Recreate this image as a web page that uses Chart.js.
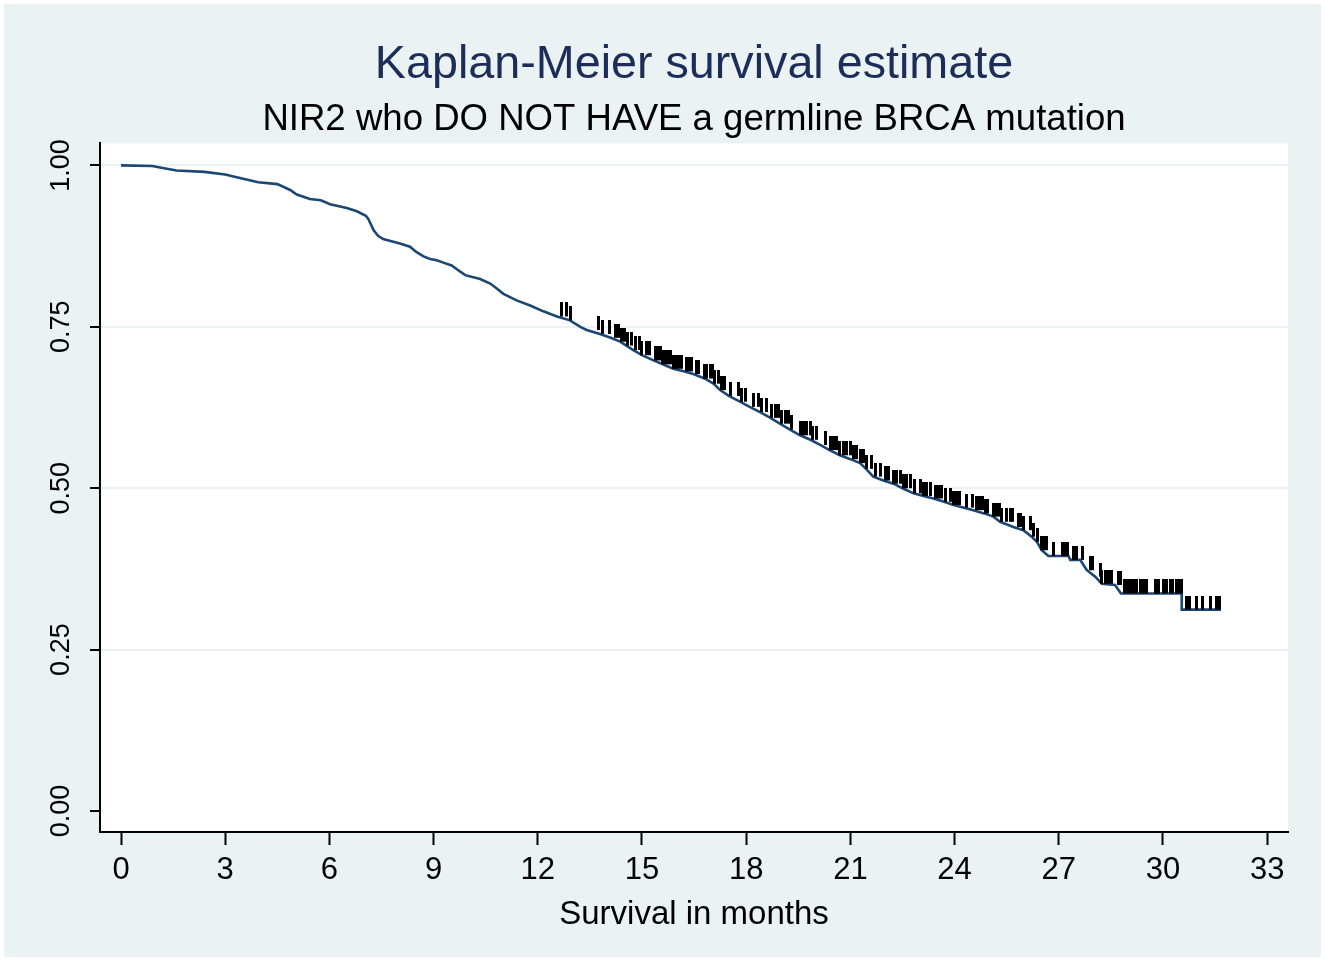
<!DOCTYPE html>
<html>
<head>
<meta charset="utf-8">
<title>Kaplan-Meier survival estimate</title>
<script src="https://cdn.jsdelivr.net/npm/chart.js@4.4.1/dist/chart.umd.min.js"></script>
<style>
  html, body { margin: 0; padding: 0; background: #ffffff; }
  #wrap { width: 1325px; height: 961px; }
</style>
</head>
<body>
<div id="wrap"><canvas id="kmChart" width="1325" height="961"></canvas></div>
<script>
// KM curve: time (months) and survival
const kmTime = [
  0, 0.9, 1.2, 1.6, 2.4, 3.0, 3.3, 3.95, 4.5, 4.87, 5.06, 5.44, 5.75, 6.02, 6.5, 6.79,
  7.05, 7.12, 7.2, 7.27, 7.4, 7.55, 8.03, 8.32, 8.5, 8.71, 8.9, 9.09, 9.3, 9.52, 9.7, 9.91,
  10.34, 10.63, 10.8, 11.01, 11.2, 11.39, 11.78, 12.16, 12.55, 12.93, 13.1, 13.25, 13.41, 13.79,
  14.1, 14.37, 14.55, 14.75, 15.0, 15.33, 15.6, 15.9, 16.2, 16.48, 16.8, 17.06, 17.25, 17.5,
  17.82, 18.1, 18.4, 18.7, 18.97, 19.25, 19.55, 19.85, 20.13, 20.4, 20.7, 21.0, 21.28, 21.45,
  21.66, 21.95, 22.24, 22.5, 22.82, 23.1, 23.39, 23.7, 23.97, 24.25, 24.54, 24.85, 25.12, 25.31,
  25.69, 25.98, 26.22, 26.37, 26.51, 26.7, 27.28, 27.33, 27.62, 27.71, 27.81, 28.05, 28.24, 28.62,
  28.79, 30.54, 30.54, 31.67
];
const kmSurv = [
  1.000, 0.999, 0.996, 0.992, 0.990, 0.986, 0.982, 0.974, 0.971, 0.962, 0.955, 0.948, 0.946, 0.940, 0.934, 0.929,
  0.922, 0.917, 0.908, 0.900, 0.891, 0.886, 0.879, 0.874, 0.866, 0.859, 0.855, 0.853, 0.849, 0.845, 0.838, 0.830,
  0.824, 0.817, 0.810, 0.801, 0.796, 0.791, 0.783, 0.774, 0.766, 0.760, 0.754, 0.749, 0.745, 0.739,
  0.733, 0.727, 0.721, 0.714, 0.706, 0.698, 0.692, 0.685, 0.681, 0.677, 0.670, 0.662, 0.652, 0.643,
  0.634, 0.626, 0.618, 0.609, 0.600, 0.591, 0.582, 0.575, 0.567, 0.559, 0.551, 0.545, 0.539, 0.530,
  0.518, 0.512, 0.507, 0.500, 0.492, 0.488, 0.484, 0.479, 0.474, 0.470, 0.466, 0.461, 0.456, 0.448,
  0.440, 0.435, 0.425, 0.417, 0.404, 0.395, 0.395, 0.389, 0.389, 0.381, 0.373, 0.363, 0.352, 0.350,
  0.337, 0.337, 0.312, 0.312
];
// censored observations (months)
const censorTime = [
  12.69, 12.83, 12.95, 13.74, 13.86, 14.06, 14.23, 14.31, 14.42, 14.51, 14.58, 14.71, 14.80,
  14.93, 15.00, 15.14, 15.21, 15.38, 15.44, 15.52, 15.60, 15.69, 15.76, 15.83, 15.90, 15.98,
  16.06, 16.15, 16.29, 16.36, 16.43, 16.56, 16.62, 16.80, 16.86, 16.96, 17.04, 17.10, 17.20,
  17.30, 17.39, 17.54, 17.78, 17.87, 17.97, 18.21, 18.35, 18.45, 18.59, 18.74, 18.83, 18.93,
  19.03, 19.12, 19.22, 19.31, 19.55, 19.65, 19.75, 19.84, 19.92, 20.03, 20.27, 20.42, 20.51,
  20.61, 20.70, 20.80, 20.90, 20.99, 21.09, 21.18, 21.28, 21.38, 21.47, 21.62, 21.71, 21.86,
  22.00, 22.10, 22.24, 22.34, 22.43, 22.53, 22.62, 22.72, 22.86, 23.01, 23.10, 23.20, 23.30,
  23.44, 23.53, 23.63, 23.73, 23.87, 23.97, 24.06, 24.14, 24.35, 24.53, 24.62, 24.72, 24.81,
  24.88, 24.95, 25.12, 25.22, 25.29, 25.36, 25.50, 25.60, 25.66, 25.84, 25.91, 25.98, 26.18,
  26.27, 26.39, 26.51, 26.56, 26.66, 26.85, 27.12, 27.18, 27.26, 27.42, 27.52, 27.69, 27.92,
  27.98, 28.19, 28.24, 28.34, 28.43, 28.53, 28.72, 28.77, 28.88, 28.98, 29.07, 29.15, 29.25,
  29.34, 29.44, 29.54, 29.78, 29.82, 29.87, 30.01, 30.11, 30.21, 30.28, 30.38, 30.47, 30.52,
  30.69, 30.76, 30.96, 31.15, 31.36, 31.53, 31.63
];
const xTicks = [0, 3, 6, 9, 12, 15, 18, 21, 24, 27, 30, 33];
const yTicks = [0, 0.25, 0.5, 0.75, 1];

// survival in effect at time t
function survAt(t) {
  let s = kmSurv[0];
  for (let i = 0; i < kmTime.length; i++) {
    if (kmTime[i] <= t) s = kmSurv[i];
    else break;
  }
  return s;
}

// censor tick: only the upper half is inked so it sits on the curve
const censorMark = document.createElement('canvas');
censorMark.width = 3;
censorMark.height = 28;
const cm = censorMark.getContext('2d');
cm.fillStyle = '#000000';
cm.fillRect(0, 0, 3, 14);

const bgPlugin = {
  id: 'stataBg',
  beforeDraw(chart) {
    const c = chart.ctx, a = chart.chartArea;
    c.save();
    c.fillStyle = '#ffffff';
    c.fillRect(0, 0, chart.width, chart.height);
    c.fillStyle = '#eaf2f3';
    c.fillRect(4, 4, chart.width - 8, chart.height - 8);
    c.fillStyle = '#ffffff';
    c.fillRect(a.left, a.top, a.right - a.left, a.bottom - a.top);
    c.restore();
  }
};

// Stata centres the titles over the plot region, not the whole canvas
const centreTitles = {
  id: 'centreTitles',
  afterLayout(chart) {
    const a = chart.chartArea;
    chart.boxes.forEach(b => {
      if (!b.axis && b.position === 'top') {
        b.left = a.left;
        b.right = a.right;
        b.width = a.right - a.left;
      }
    });
  }
};

Chart.defaults.font.family = '"Liberation Sans", Arial, Helvetica, sans-serif';
Chart.defaults.color = '#000000';

const ctx = document.getElementById('kmChart').getContext('2d');
const kmChart = new Chart(ctx, {
  type: 'scatter',
  data: {
    datasets: [
      {
        label: 'censored',
        data: censorTime.map(t => ({ x: t, y: survAt(t) })),
        pointStyle: censorMark,
        pointRadius: 1,
        showLine: false
      },
      {
        label: 'S(t)',
        data: kmTime.map((t, i) => ({ x: t, y: kmSurv[i] })),
        showLine: true,
        tension: 0,
        borderColor: '#1a4773',
        borderWidth: 2.6,
        pointRadius: 0,
        fill: false
      }
    ]
  },
  options: {
    responsive: false,
    animation: false,
    events: [],
    layout: { padding: { left: 0, right: 37, top: 0, bottom: 0 } },
    plugins: {
      legend: { display: false },
      tooltip: { enabled: false },
      title: {
        display: true,
        text: 'Kaplan-Meier survival estimate',
        color: '#1c2d5a',
        font: { size: 46.7, weight: 'normal' },
        padding: { top: 37, bottom: 0 }
      },
      subtitle: {
        display: true,
        text: 'NIR2 who DO NOT HAVE a germline BRCA mutation',
        color: '#000000',
        font: { size: 36.6, weight: 'normal' },
        padding: { top: 4.6, bottom: 1.9 }
      }
    },
    scales: {
      x: {
        type: 'linear',
        min: -0.605,
        max: 33.6,
        afterBuildTicks: s => { s.ticks = xTicks.map(v => ({ value: v })); },
        afterFit: s => { s.height = 129; },
        ticks: { font: { size: 31 }, color: '#000000', padding: 7 },
        grid: { drawOnChartArea: false, drawTicks: true, tickLength: 13, tickColor: '#000000', tickWidth: 2 },
        border: { color: '#000000', width: 2 },
        title: {
          display: true,
          text: 'Survival in months',
          color: '#000000',
          font: { size: 33 },
          padding: { top: 0, bottom: 26 }
        }
      },
      y: {
        type: 'linear',
        min: -0.0325,
        max: 1.034,
        afterBuildTicks: s => { s.ticks = yTicks.map(v => ({ value: v })); },
        afterFit: s => { s.width = 100; },
        ticks: {
          font: { size: 27 },
          color: '#000000',
          minRotation: 90,
          maxRotation: 90,
          crossAlign: 'center',
          padding: 2,
          callback: v => v.toFixed(2)
        },
        grid: {
          color: c => (c.tick && c.tick.value === 0) ? 'rgba(0,0,0,0)' : '#eaf2f3',
          lineWidth: 2,
          tickLength: 10,
          tickColor: '#000000',
          tickWidth: 2
        },
        border: { color: '#000000', width: 2 }
      }
    }
  },
  plugins: [bgPlugin, centreTitles]
});
</script>
</body>
</html>
